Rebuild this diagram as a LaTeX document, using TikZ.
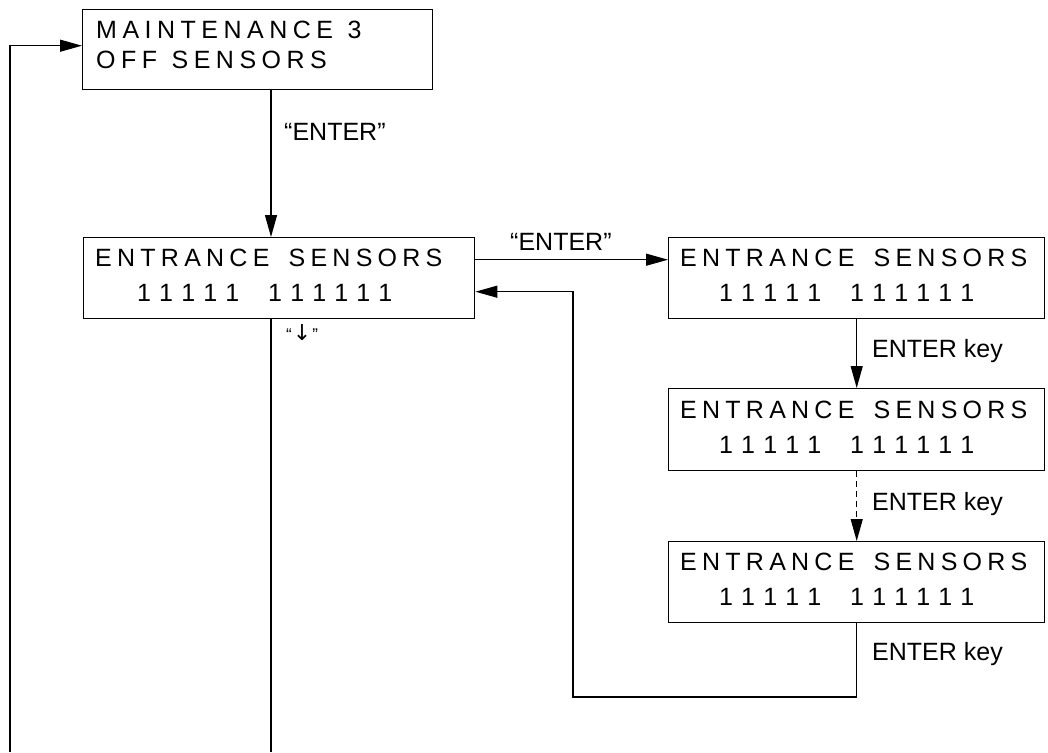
\documentclass[tikz,border=0pt]{standalone}
\usepackage{fontspec}
\setmainfont{Liberation Sans}
\newfontfamily\titlefont[LetterSpace=22]{Liberation Sans}
\newfontfamily\boxfont[LetterSpace=21]{Liberation Sans}
\newfontfamily\digfont[LetterSpace=40]{Liberation Sans}
\newfontfamily\symfont{DejaVu Sans}
\usetikzlibrary{arrows.meta}
\begin{document}
\begin{tikzpicture}[x=1pt,y=-1pt,
  box/.style={draw, line width=1.4pt, inner sep=0pt, anchor=north west},
  conn/.style={line width=1.2pt},
  arr/.style={conn, -{Triangle[length=22pt,width=12pt]}},
  lbl/.style={font=\fontsize{25}{30}\selectfont, inner sep=0pt, anchor=base west},
  tzero/.style={font=\titlefont\fontsize{25}{30}\selectfont, inner sep=0pt, anchor=base west},
  tone/.style={font=\boxfont\fontsize{25}{30}\selectfont, inner sep=0pt, anchor=base west},
  ttwo/.style={font=\digfont\fontsize{25}{30}\selectfont, inner sep=0pt, anchor=base west}]
\useasboundingbox (0,0) rectangle (1048,752);
% boxes
\node[box, minimum width=350pt, minimum height=80pt] (b1) at (82,9) {};
\node[box, minimum width=391pt, minimum height=81pt] (b2) at (83,237) {};
\node[box, minimum width=376pt, minimum height=81pt] (b3) at (668,237) {};
\node[box, minimum width=376pt, minimum height=82pt] (b4) at (668,388) {};
\node[box, minimum width=376pt, minimum height=81pt] (b5) at (668,541) {};
% box texts
\node[tzero] (t1a) at (96,38) {MAINTENANCE\hspace{2pt} 3};
\node[tzero] (t1b) at (96,68) {OFF\hspace{2pt} SENSORS};
\node[tone] (t2a) at (95,266) {ENTRANCE\hspace{7pt} SENSORS};
\node[ttwo] (t2b) at (137,301) {11111\hspace{12pt} 111111};
\node[tone] (t3a) at (680,266) {ENTRANCE\hspace{7pt} SENSORS};
\node[ttwo] (t3b) at (719,301) {11111\hspace{12pt} 111111};
\node[tone] (t4a) at (680,418) {ENTRANCE\hspace{7pt} SENSORS};
\node[ttwo] (t4b) at (719,453) {11111\hspace{12pt} 111111};
\node[tone] (t5a) at (680,570) {ENTRANCE\hspace{7pt} SENSORS};
\node[ttwo] (t5b) at (719,605) {11111\hspace{12pt} 111111};
% coordinates
\coordinate (lb) at (10,752);
\coordinate (mx) at (271,0);
\coordinate (bd) at (271,752);
\coordinate (rc) at (573,697);
% connectors
\draw[arr] (lb) |- ([yshift=4pt]b1.west);
\draw[arr] (b1.south -| mx) -- (b2.north -| mx);
\draw[conn] (b2.south -| bd) -- (bd);
\draw[arr] ([yshift=18.5pt]b2.east) -- ([yshift=18.5pt]b3.west);
\draw[arr] (b3.south) -- (b4.north);
\draw[arr, dash pattern=on 6pt off 4pt] (b4.south) -- (b5.north);
\draw[arr] (b5.south) -- (b5.south |- rc) -- (rc) |- ([yshift=-13.5pt]b2.east);
% labels
\node[lbl] (l1) at (284,140) {“ENTER”};
\node[lbl] (l2) at (510,250) {“ENTER”};
\node[lbl, font=\fontsize{17}{20}\selectfont] (l3) at (286,340) {“\hspace{1pt}{\symfont\fontsize{22}{24}\selectfont ↓}\hspace{1pt}”};
\node[lbl] (l4) at (872,357) {ENTER key};
\node[lbl] (l5) at (872,510) {ENTER key};
\node[lbl] (l6) at (872,660) {ENTER key};
\end{tikzpicture}
\end{document}
